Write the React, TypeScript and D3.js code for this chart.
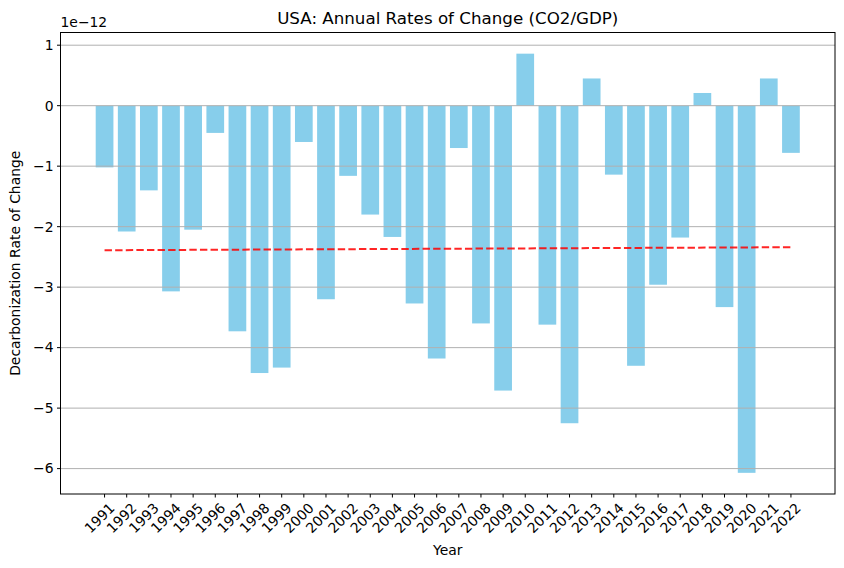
import React from "react";
import * as d3 from "d3";

const years = [1991,1992,1993,1994,1995,1996,1997,1998,1999,2000,2001,2002,2003,2004,2005,2006,2007,2008,2009,2010,2011,2012,2013,2014,2015,2016,2017,2018,2019,2020,2021,2022];
const rates = [-1.02,-2.08,-1.40,-3.07,-2.05,-0.45,-3.73,-4.42,-4.33,-0.60,-3.20,-1.16,-1.80,-2.17,-3.27,-4.18,-0.70,-3.60,-4.71,0.86,-3.62,-5.25,0.45,-1.14,-4.30,-2.96,-2.18,0.21,-3.33,-6.07,0.45,-0.78];
const trendStart = -2.39;
const trendEnd = -2.34;
const yTicks = [1,0,-1,-2,-3,-4,-5,-6];

const W = 844, H = 568;
const L = 60.5, R = 835, T = 32.5, B = 494;
const font = "DejaVu Sans, sans-serif";

export default function App() {
  const x = d3.scaleLinear().domain([1989.01, 2023.99]).range([L, R]);
  const yMin = -6.42, yMax = 1.21;
  const y = d3.scaleLinear().domain([yMin, yMax]).range([B, T]);
  const bw = x(1991.4) - x(1990.6);
  return (
    <svg width={W} height={H} style={{ position: "absolute", left: 0, top: 0 }} fontFamily={font}>
      <rect width={W} height={H} fill="#fff" />
      {years.map((yr, i) => {
        const v = rates[i];
        return (
          <rect key={yr} x={x(yr) - bw / 2} width={bw} y={y(Math.max(0, v))} height={Math.abs(y(v) - y(0))} fill="#87ceeb" />
        );
      })}
      {yTicks.map(t => (
        <line key={t} x1={L} x2={R} y1={y(t)} y2={y(t)} stroke="#b0b0b0" strokeWidth={1} />
      ))}
      <line x1={x(1991)} x2={x(2022)} y1={y(trendStart)} y2={y(trendEnd)} stroke="red" strokeWidth={2} strokeDasharray="7.4,3.2" opacity={0.85} />
      <rect x={L} y={T} width={R - L} height={B - T} fill="none" stroke="#000" strokeWidth={1} />
      {yTicks.map(t => (
        <g key={t}>
          <line x1={L - 3.5} x2={L} y1={y(t)} y2={y(t)} stroke="#000" />
          <text x={L - 7} y={y(t)} dy="0.35em" textAnchor="end" fontSize={13.9}>{t < 0 ? "\u2212" + Math.abs(t) : t}</text>
        </g>
      ))}
      <text x={L} y={T - 6} fontSize={13.9}>1e−12</text>
      {years.map(yr => (
        <g key={yr}>
          <line x1={x(yr)} x2={x(yr)} y1={B} y2={B + 3.5} stroke="#000" />
          <text transform={`translate(${x(yr) + 4},${B + 8}) rotate(-45)`} textAnchor="end" dy="0.7em" fontSize={13.9}>{yr}</text>
        </g>
      ))}
      <text x={(L + R) / 2} y={555} textAnchor="middle" fontSize={13.9}>Year</text>
      <text transform={`translate(20,${(T + B) / 2}) rotate(-90)`} textAnchor="middle" fontSize={13.9}>Decarbonization Rate of Change</text>
      <text x={(L + R) / 2} y={T - 9} textAnchor="middle" fontSize={16.7}>USA: Annual Rates of Change (CO2/GDP)</text>
    </svg>
  );
}
